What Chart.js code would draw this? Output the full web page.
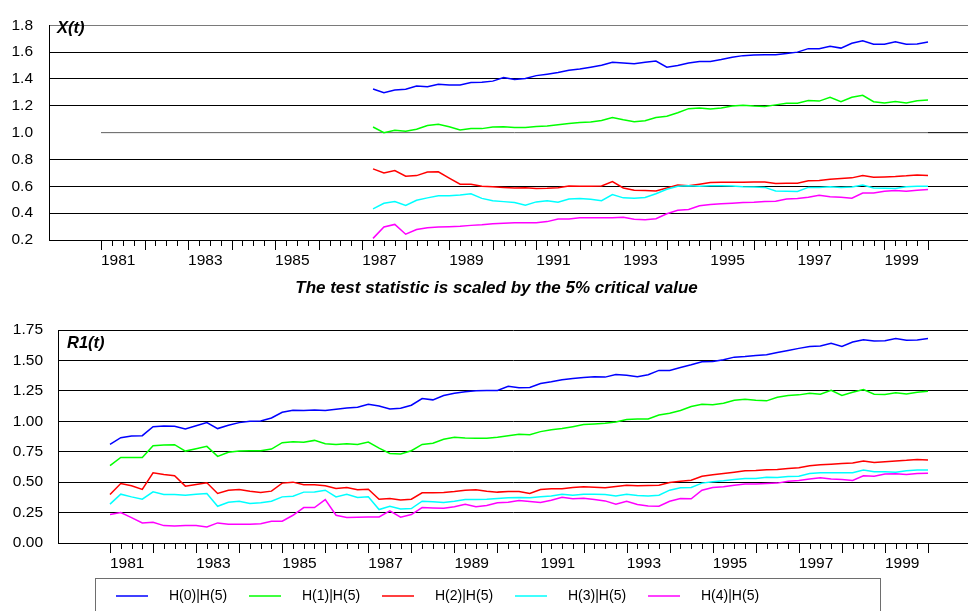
<!DOCTYPE html>
<html><head><meta charset="utf-8">
<script src="https://cdn.jsdelivr.net/npm/chart.js@4/dist/chart.umd.min.js"></script>
<style>
html,body{margin:0;padding:0;background:#fff;overflow:hidden;width:968px;height:611px;}
#c1{position:absolute;left:0;top:0;}
#c2{position:absolute;left:0;top:300px;}
</style></head><body>
<canvas id="c1" width="968" height="300"></canvas>
<canvas id="c2" width="968" height="311"></canvas>
<script>
// ---------- data ----------
const seriesLabels = ['H(0)|H(5)', 'H(1)|H(5)', 'H(2)|H(5)', 'H(3)|H(5)', 'H(4)|H(5)'];
const xTickYears = [1981, 1983, 1985, 1987, 1989, 1991, 1993, 1995, 1997, 1999];
const yTicksX = [0.2, 0.4, 0.6, 0.8, 1.0, 1.2, 1.4, 1.6, 1.8];
const yTicksR1 = [0, 0.25, 0.5, 0.75, 1.0, 1.25, 1.5, 1.75];
const startX = 1987.25;   // first quarter of X(t)
const startR1 = 1981.0;   // first quarter of R1(t)
const criticalValue = 1.0;
const criticalSpan = [1981, 2000];

const xH0 = [1.325,1.297,1.318,1.323,1.347,1.342,1.361,1.356,1.356,1.373,1.375,1.384,1.410,1.396,1.403,1.425,1.436,1.448,1.465,1.474,1.488,1.503,1.524,1.519,1.514,1.524,1.533,1.488,
             1.500,1.519,1.531,1.531,1.545,1.562,1.574,1.578,1.581,1.581,1.590,1.600,1.626,1.626,1.644,1.630,1.666,1.685,1.659,1.659,1.678,1.659,1.661,1.675];
const xH1 = [1.042,0.999,1.018,1.011,1.025,1.053,1.063,1.044,1.020,1.030,1.030,1.042,1.044,1.039,1.039,1.046,1.049,1.058,1.068,1.075,1.079,1.091,1.113,1.096,1.082,1.089,1.113,1.122,
             1.148,1.179,1.183,1.176,1.183,1.198,1.205,1.198,1.195,1.207,1.219,1.219,1.240,1.235,1.264,1.231,1.264,1.278,1.231,1.221,1.233,1.221,1.238,1.243];
const xH2 = [0.730,0.699,0.718,0.675,0.680,0.706,0.708,0.661,0.616,0.616,0.600,0.597,0.592,0.588,0.590,0.583,0.585,0.590,0.602,0.600,0.600,0.602,0.635,0.588,0.571,0.569,0.566,0.588,
             0.609,0.604,0.616,0.628,0.630,0.630,0.630,0.633,0.633,0.621,0.623,0.623,0.642,0.644,0.652,0.659,0.663,0.680,0.668,0.670,0.673,0.678,0.685,0.680];
const xH3 = [0.432,0.474,0.486,0.458,0.496,0.514,0.529,0.529,0.536,0.545,0.510,0.493,0.486,0.479,0.460,0.484,0.493,0.481,0.505,0.510,0.503,0.493,0.538,0.514,0.512,0.517,0.545,0.578,
             0.600,0.604,0.600,0.604,0.604,0.602,0.597,0.595,0.592,0.566,0.564,0.562,0.592,0.592,0.597,0.592,0.595,0.609,0.588,0.585,0.583,0.597,0.600,0.600];
const xH4 = [0.212,0.297,0.316,0.243,0.278,0.292,0.297,0.299,0.302,0.309,0.313,0.321,0.325,0.328,0.328,0.328,0.337,0.356,0.356,0.365,0.365,0.365,0.365,0.370,0.354,0.351,0.358,0.396,
             0.422,0.427,0.455,0.465,0.470,0.474,0.479,0.481,0.486,0.488,0.505,0.510,0.519,0.533,0.522,0.519,0.512,0.550,0.550,0.564,0.569,0.564,0.571,0.576];

const rH0 = [0.810,0.865,0.879,0.882,0.956,0.962,0.959,0.937,0.964,0.989,0.940,0.967,0.989,1.000,1.003,1.027,1.074,1.091,1.088,1.093,1.088,1.099,1.110,1.115,1.140,1.126,1.101,
             1.107,1.132,1.187,1.176,1.212,1.231,1.242,1.250,1.253,1.253,1.288,1.275,1.277,1.310,1.324,1.341,1.352,1.360,1.365,1.363,1.385,1.379,1.365,1.382,
             1.418,1.418,1.442,1.464,1.489,1.492,1.505,1.527,1.533,1.541,1.547,1.566,1.582,1.599,1.615,1.618,1.640,1.615,1.651,1.670,1.659,1.662,1.681,1.665,1.668,1.681];
const rH1 = [0.635,0.703,0.703,0.703,0.799,0.805,0.808,0.755,0.775,0.794,0.712,0.745,0.755,0.758,0.758,0.772,0.824,0.832,0.827,0.843,0.816,0.810,0.816,0.810,0.830,0.780,0.736,
             0.731,0.758,0.810,0.819,0.852,0.868,0.863,0.860,0.860,0.868,0.882,0.893,0.890,0.915,0.931,0.940,0.956,0.973,0.978,0.984,0.995,1.014,1.019,1.019,
             1.052,1.066,1.088,1.121,1.140,1.135,1.148,1.173,1.181,1.173,1.168,1.198,1.212,1.217,1.231,1.223,1.255,1.212,1.239,1.261,1.223,1.220,1.234,1.225,1.239,1.247];
const rH2 = [0.398,0.489,0.470,0.440,0.577,0.563,0.552,0.467,0.481,0.495,0.407,0.434,0.440,0.426,0.415,0.426,0.492,0.500,0.478,0.478,0.470,0.448,0.456,0.437,0.442,0.360,0.365,
             0.354,0.360,0.412,0.412,0.415,0.423,0.434,0.437,0.426,0.418,0.423,0.423,0.407,0.440,0.445,0.445,0.456,0.462,0.459,0.453,0.464,0.475,0.470,0.473,
             0.475,0.497,0.508,0.516,0.549,0.560,0.571,0.582,0.593,0.596,0.602,0.604,0.613,0.618,0.635,0.643,0.648,0.654,0.657,0.673,0.662,0.668,0.673,0.679,0.687,0.681];
const rH3 = [0.319,0.401,0.379,0.360,0.420,0.398,0.398,0.393,0.401,0.407,0.302,0.335,0.343,0.324,0.330,0.343,0.379,0.385,0.418,0.420,0.434,0.379,0.401,0.374,0.379,0.275,0.302,
             0.280,0.283,0.343,0.338,0.332,0.343,0.357,0.357,0.360,0.365,0.371,0.374,0.371,0.379,0.387,0.401,0.393,0.401,0.401,0.398,0.387,0.401,0.390,0.387,
             0.393,0.434,0.453,0.456,0.492,0.503,0.511,0.522,0.530,0.530,0.541,0.538,0.547,0.549,0.571,0.577,0.577,0.577,0.577,0.599,0.585,0.585,0.582,0.593,0.599,0.599];
const rH4 = [0.234,0.250,0.209,0.165,0.170,0.143,0.140,0.143,0.143,0.132,0.165,0.154,0.154,0.154,0.159,0.179,0.179,0.228,0.291,0.291,0.357,0.228,0.209,0.212,0.214,0.214,0.264,
             0.212,0.234,0.291,0.288,0.286,0.297,0.319,0.297,0.308,0.330,0.335,0.349,0.341,0.332,0.352,0.376,0.363,0.368,0.357,0.346,0.319,0.343,0.316,0.305,
             0.302,0.343,0.365,0.363,0.434,0.456,0.462,0.475,0.484,0.484,0.489,0.492,0.508,0.514,0.525,0.536,0.525,0.522,0.514,0.552,0.549,0.566,0.569,0.563,0.571,0.574];

// ---------- styles ----------
const seriesColors = ['#0000ff', '#00ff00', '#ff0000', '#00ffff', '#ff00ff'];
const FONT = '"Liberation Sans", Arial, Helvetica, sans-serif';
Chart.defaults.font.family = FONT;
Chart.defaults.font.size = 15.5;
Chart.defaults.color = '#000';
Chart.defaults.animation = false;

function makeDatasets(start, list) {
  return list.map((vals, i) => ({
    label: seriesLabels[i],
    data: vals.map((v, k) => ({x: start + k * 0.25, y: v})),
    borderColor: seriesColors[i],
    backgroundColor: seriesColors[i],
    borderWidth: 1.5,
    pointRadius: 0,
    tension: 0,
    fill: false,
    order: list.length - i
  }));
}

// quarterly tick marks (major each year) drawn through the x scale
const tickMarks = {
  id: 'tickMarks',
  afterDraw(chart) {
    const xs = chart.scales.x, ctx = chart.ctx, y0 = chart.chartArea.bottom;
    ctx.save();
    ctx.strokeStyle = '#000';
    ctx.lineWidth = 1;
    for (let q = 0; q <= 76; q++) {
      const v = 1981 + q / 4;
      const px = Math.round(xs.getPixelForValue(v)) + 0.5;
      const len = (q % 4 === 0) ? 10 : 6;
      ctx.beginPath();
      ctx.moveTo(px, y0);
      ctx.lineTo(px, y0 + len);
      ctx.stroke();
    }
    ctx.restore();
  }
};

const chartText = {
  id: 'chartText',
  afterDraw(chart, args, opts) {
    const ctx = chart.ctx;
    ctx.save();
    (opts.items || []).forEach(it => {
      ctx.font = it.font;
      ctx.fillStyle = '#000';
      ctx.textAlign = it.align || 'left';
      ctx.textBaseline = 'middle';
      ctx.fillText(it.text, it.x, it.y);
    });
    ctx.restore();
  }
};

const boxLegend = {
  id: 'boxLegend',
  afterDraw(chart, args, opts) {
    if (!opts.show) return;
    const ctx = chart.ctx;
    ctx.save();
    ctx.strokeStyle = '#6e6e6e';
    ctx.lineWidth = 1;
    ctx.strokeRect(opts.left + 0.5, opts.top + 0.5, opts.width, opts.height);
    ctx.font = '14px ' + FONT;
    ctx.textBaseline = 'middle';
    ctx.textAlign = 'left';
    chart.data.datasets.forEach((ds, i) => {
      const x0 = opts.left + opts.first + i * opts.step;
      ctx.strokeStyle = ds.borderColor;
      ctx.lineWidth = 1.5;
      ctx.beginPath();
      ctx.moveTo(x0, opts.lineY);
      ctx.lineTo(x0 + 32, opts.lineY);
      ctx.stroke();
      ctx.fillStyle = '#000';
      ctx.fillText(ds.label, x0 + 53, opts.lineY);
    });
    ctx.restore();
  }
};

function xScale(min, max, h) {
  return {
    type: 'linear', min: min, max: max,
    afterBuildTicks: s => { s.ticks = xTickYears.map(v => ({value: v})); },
    ticks: { align: 'start', padding: 11, autoSkip: false, maxRotation: 0, minRotation: 0,
             callback: v => String(v) },
    grid: { drawOnChartArea: false, drawTicks: false },
    border: { display: true, color: '#000', width: 1 },
    afterFit: s => { s.height = h; }
  };
}
function yScale(min, max, ticks, dec, w, pad, colorFn) {
  return {
    type: 'linear', min: min, max: max,
    afterBuildTicks: s => { s.ticks = ticks.map(v => ({value: v})); },
    ticks: { padding: pad, callback: v => Number(v).toFixed(dec) },
    grid: { drawTicks: false, lineWidth: 1, color: colorFn },
    border: { display: true, color: '#000', width: 1 },
    afterFit: s => { s.width = w; }
  };
}

// ---------- top chart: X(t) ----------
const pxYearTop = (928 - 101) / 19;
const xMinTop = 1981 - (101 - 49) / pxYearTop;
const xMaxTop = 1981 + (968 - 101) / pxYearTop;
const topSets = makeDatasets(startX, [xH0, xH1, xH2, xH3, xH4]);
topSets.push({
  label: '5% critical value',
  data: [{x: criticalSpan[0], y: criticalValue}, {x: criticalSpan[1], y: criticalValue}, {x: xMaxTop, y: criticalValue}],
  borderWidth: 1, pointRadius: 0, tension: 0, fill: false, order: 20,
  borderColor: '#000',
  segment: { borderColor: c => c.p0DataIndex === 0 ? '#5e5e5e' : '#000' }
});
new Chart(document.getElementById('c1'), {
  type: 'line',
  data: { datasets: topSets },
  options: {
    responsive: false, devicePixelRatio: 1,
    layout: { padding: { top: 15, left: 0, right: 0, bottom: 0 } },
    plugins: { legend: { display: false }, tooltip: { enabled: false },
      chartText: { items: [
        { text: 'X(t)', x: 57, y: 28.5, font: 'italic bold 16.5px ' + FONT },
        { text: 'The test statistic is scaled by the 5% critical value', x: 496.5, y: 288, align: 'center', font: 'italic bold 17px ' + FONT }
      ] } },
    scales: {
      x: xScale(xMinTop, xMaxTop, 60),
      y: yScale(0.2, 1.8, yTicksX, 1, 49, 16, c => {
        const v = c.tick ? Math.round(c.tick.value * 10) / 10 : 0;
        if (v === 1.0) return 'rgba(0,0,0,0)';
        if (v === 1.8) return '#7a7a7a';
        return '#000';
      })
    }
  },
  plugins: [tickMarks, chartText]
});

// ---------- bottom chart: R1(t) ----------
const pxYearBot = (928 - 110) / 19;
const xMinBot = 1981 - (110 - 58) / pxYearBot;
const xMaxBot = 1981 + (968 - 110) / pxYearBot;
new Chart(document.getElementById('c2'), {
  type: 'line',
  data: { datasets: makeDatasets(startR1, [rH0, rH1, rH2, rH3, rH4]) },
  options: {
    responsive: false, devicePixelRatio: 1,
    layout: { padding: { top: 30, left: 0, right: 0, bottom: 0 } },
    plugins: { legend: { display: false }, tooltip: { enabled: false },
      chartText: { items: [
        { text: 'R1(t)', x: 67, y: 43, font: 'italic bold 16.5px ' + FONT }
      ] },
      boxLegend: { show: true, left: 95, top: 278, width: 785, height: 60, first: 21, step: 133, lineY: 296 }
    },
    scales: {
      x: xScale(xMinBot, xMaxBot, 68),
      y: yScale(0, 1.75, yTicksR1, 2, 58, 15, () => '#000')
    }
  },
  plugins: [tickMarks, chartText, boxLegend]
});
</script>
</body></html>
